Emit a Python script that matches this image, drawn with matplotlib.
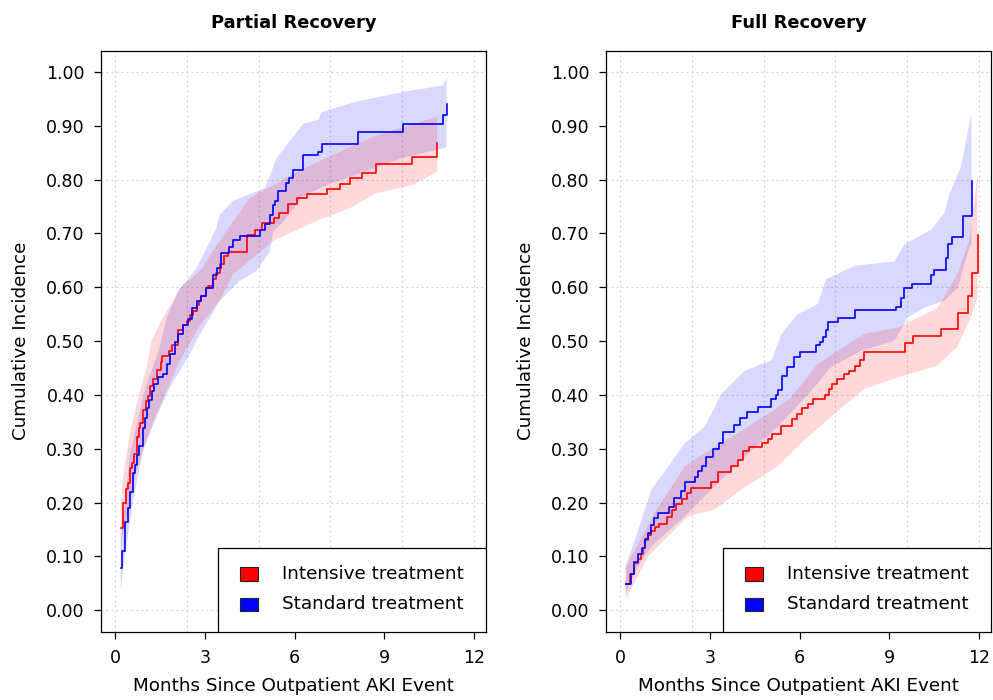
import matplotlib
matplotlib.use("Agg")
import matplotlib.pyplot as plt
from matplotlib.patches import Rectangle

plt.rcParams['font.family'] = ['DejaVu Sans']

groups = ["Intensive treatment", "Standard treatment"]
line_colors = ["red", "blue"]
titles = ["Partial Recovery", "Full Recovery"]
x_ticks = [0, 3, 6, 9, 12]
y_ticks = [0.0, 0.1, 0.2, 0.3, 0.4, 0.5, 0.6, 0.7, 0.8, 0.9, 1.0]

# ---- Partial recovery: cumulative incidence step curves
partial_int_t = [0.19, 0.27, 0.37, 0.43, 0.50, 0.58, 0.65, 0.74, 0.80, 0.85, 0.94, 1.03,
                 1.09, 1.17, 1.26, 1.39, 1.53, 1.58, 1.81, 1.92, 2.09, 2.28, 2.42, 2.52,
                 2.62, 2.73, 2.81, 2.89, 3.04, 3.12, 3.26, 3.36, 3.50, 3.65, 3.79, 4.40,
                 4.68, 4.92, 5.31, 5.47, 5.79, 6.09, 6.43, 7.07, 7.51, 7.85, 8.27, 8.72,
                 9.94, 10.77]
partial_int_y = [0.152, 0.199, 0.225, 0.237, 0.264, 0.273, 0.290, 0.321, 0.338, 0.347, 0.372,
                 0.388, 0.398, 0.416, 0.429, 0.447, 0.461, 0.473, 0.481, 0.493, 0.521, 0.530,
                 0.538, 0.548, 0.556, 0.567, 0.575, 0.584, 0.598, 0.603, 0.615, 0.627, 0.644,
                 0.658, 0.666, 0.698, 0.706, 0.720, 0.729, 0.738, 0.755, 0.765, 0.773, 0.783,
                 0.792, 0.803, 0.813, 0.829, 0.842, 0.868]
partial_std_t = [0.19, 0.25, 0.34, 0.45, 0.50, 0.61, 0.67, 0.74, 0.81, 0.92, 1.01, 1.06,
                 1.15, 1.23, 1.30, 1.44, 1.61, 1.73, 1.84, 2.00, 2.11, 2.28, 2.45, 2.58,
                 2.75, 2.87, 3.04, 3.26, 3.42, 3.53, 3.82, 3.93, 4.17, 4.84, 5.03, 5.18,
                 5.27, 5.36, 5.45, 5.70, 5.81, 5.96, 6.27, 6.79, 6.91, 8.12, 9.62, 10.97,
                 11.11]
partial_std_y = [0.079, 0.110, 0.163, 0.190, 0.219, 0.254, 0.269, 0.288, 0.305, 0.338, 0.358,
                 0.375, 0.390, 0.408, 0.421, 0.434, 0.438, 0.458, 0.476, 0.498, 0.513, 0.529,
                 0.541, 0.561, 0.575, 0.584, 0.598, 0.623, 0.636, 0.663, 0.675, 0.688, 0.696,
                 0.707, 0.718, 0.735, 0.752, 0.760, 0.778, 0.794, 0.804, 0.818, 0.845, 0.852,
                 0.866, 0.888, 0.904, 0.921, 0.941]

# ---- Partial recovery: confidence bands
partial_int_up_t = [0.19, 0.30, 0.50, 0.80, 1.05, 1.22, 1.56, 1.78, 2.20, 2.84, 3.30, 3.95,
                    4.50, 5.29, 6.19, 7.29, 8.63, 10.77]
partial_int_up = [0.20, 0.26, 0.33, 0.40, 0.45, 0.50, 0.54, 0.56, 0.60, 0.63, 0.67, 0.723,
                  0.766, 0.790, 0.818, 0.846, 0.880, 0.917]
partial_int_lo_t = [0.19, 0.22, 0.39, 0.72, 1.06, 1.39, 1.73, 2.17, 2.84, 3.50, 3.95, 5.29,
                    5.74, 6.73, 7.85, 8.74, 9.96, 10.77]
partial_int_lo = [0.12, 0.131, 0.174, 0.26, 0.316, 0.366, 0.408, 0.464, 0.529, 0.575, 0.624,
                  0.686, 0.698, 0.723, 0.747, 0.775, 0.790, 0.815]
partial_std_up_t = [0.19, 0.50, 1.00, 1.50, 1.73, 2.11, 2.73, 3.39, 3.50, 3.95, 5.01, 5.23,
                    5.40, 5.74, 6.29, 6.79, 6.91, 8.07, 9.62, 10.97, 11.08]
partial_std_up = [0.13, 0.29, 0.41, 0.49, 0.544, 0.593, 0.636, 0.710, 0.735, 0.761, 0.784,
                  0.815, 0.840, 0.864, 0.904, 0.911, 0.926, 0.945, 0.963, 0.975, 0.99]
partial_std_lo_t = [0.19, 0.34, 0.61, 0.94, 1.39, 1.84, 2.17, 2.51, 2.84, 3.18, 3.50, 4.17,
                    4.73, 5.18, 5.29, 5.60, 6.30, 7.10, 8.10, 9.60, 11.08]
partial_std_lo = [0.039, 0.107, 0.205, 0.298, 0.359, 0.415, 0.445, 0.477, 0.513, 0.544, 0.575,
                  0.612, 0.630, 0.667, 0.704, 0.720, 0.770, 0.790, 0.810, 0.840, 0.860]

# ---- Full recovery: cumulative incidence step curves
full_int_t = [0.19, 0.33, 0.47, 0.61, 0.69, 0.78, 0.85, 0.94, 1.02, 1.16, 1.31, 1.56, 1.73,
              1.86, 2.08, 2.23, 2.37, 3.04, 3.28, 3.71, 3.95, 4.12, 4.31, 4.74, 4.94, 5.07,
              5.38, 5.76, 5.93, 6.07, 6.29, 6.46, 6.85, 6.98, 7.09, 7.24, 7.49, 7.66, 7.85,
              8.02, 8.16, 9.53, 9.80, 10.73, 11.30, 11.62, 11.78, 11.95]
full_int_y = [0.048, 0.068, 0.088, 0.096, 0.104, 0.116, 0.130, 0.140, 0.148, 0.154, 0.161,
              0.174, 0.187, 0.198, 0.206, 0.218, 0.227, 0.239, 0.256, 0.267, 0.279, 0.296,
              0.303, 0.311, 0.319, 0.327, 0.342, 0.356, 0.365, 0.375, 0.383, 0.392, 0.400,
              0.411, 0.421, 0.430, 0.439, 0.444, 0.454, 0.464, 0.479, 0.496, 0.510, 0.523,
              0.553, 0.584, 0.626, 0.698]
full_std_t = [0.19, 0.36, 0.47, 0.61, 0.74, 0.85, 0.94, 1.02, 1.13, 1.27, 1.63, 1.80, 2.05,
              2.16, 2.51, 2.60, 2.74, 2.87, 3.10, 3.32, 3.45, 3.81, 4.01, 4.23, 4.60, 5.04,
              5.20, 5.29, 5.40, 5.58, 5.81, 6.02, 6.55, 6.68, 6.79, 6.88, 6.96, 7.27, 7.87,
              9.22, 9.39, 9.50, 9.75, 10.39, 10.50, 10.89, 10.97, 11.10, 11.45, 11.75]
full_std_y = [0.048, 0.067, 0.089, 0.104, 0.116, 0.133, 0.144, 0.159, 0.171, 0.181, 0.192,
              0.208, 0.221, 0.239, 0.248, 0.259, 0.268, 0.285, 0.299, 0.311, 0.331, 0.344,
              0.358, 0.368, 0.378, 0.392, 0.399, 0.410, 0.436, 0.452, 0.470, 0.479, 0.492,
              0.498, 0.507, 0.521, 0.535, 0.543, 0.558, 0.564, 0.581, 0.598, 0.606, 0.623,
              0.633, 0.655, 0.681, 0.694, 0.733, 0.797]

# ---- Full recovery: confidence bands
full_int_up_t = [0.19, 1.16, 2.16, 2.83, 4.28, 5.16, 5.73, 6.61, 8.16, 9.28, 10.62, 11.27,
                 11.67, 11.95]
full_int_up = [0.08, 0.181, 0.267, 0.291, 0.341, 0.372, 0.396, 0.458, 0.513, 0.525, 0.562,
               0.624, 0.686, 0.810]
full_int_lo_t = [0.19, 0.94, 2.27, 3.16, 4.05, 5.27, 6.16, 7.05, 8.16, 9.50, 10.62, 11.27,
                 11.72, 11.95]
full_int_lo = [0.02, 0.10, 0.174, 0.187, 0.224, 0.267, 0.316, 0.359, 0.411, 0.436, 0.455,
               0.489, 0.544, 0.580]
full_std_up_t = [0.19, 0.50, 1.05, 1.61, 2.16, 2.83, 3.39, 4.17, 5.06, 5.40, 5.94, 6.05,
                 6.61, 6.89, 7.85, 9.18, 9.50, 10.40, 10.85, 11.00, 11.40, 11.72, 11.75]
full_std_up = [0.082, 0.131, 0.224, 0.267, 0.310, 0.341, 0.402, 0.445, 0.464, 0.513, 0.550,
               0.553, 0.569, 0.615, 0.640, 0.648, 0.680, 0.707, 0.738, 0.772, 0.824, 0.917,
               0.92]
full_std_lo_t = [0.19, 0.61, 1.05, 2.16, 3.16, 4.17, 5.28, 6.40, 7.06, 8.06, 9.18, 9.62,
                 10.17, 10.85, 11.30, 11.67, 11.75]
full_std_lo = [0.033, 0.082, 0.119, 0.174, 0.230, 0.285, 0.341, 0.408, 0.452, 0.482, 0.501,
               0.544, 0.562, 0.575, 0.600, 0.673, 0.680]


def band(ax, up_t, up, lo_t, lo, color):
    xs = list(up_t) + list(lo_t)[::-1]
    ys = list(up) + list(lo)[::-1]
    ax.fill(xs, ys, color=color, alpha=0.15, lw=0)


def draw_panel(ax, title, curves, bands):
    # standard band first, intensive on top
    band(ax, *bands[1], line_colors[1])
    band(ax, *bands[0], line_colors[0])
    for (t, y), col in zip(curves, line_colors):
        ax.plot(t, y, drawstyle="steps-post", color=col, lw=1.2)

    ax.set_xlim(-0.468, 12.4)
    ax.set_ylim(-0.04, 1.04)
    ax.set_xticks(x_ticks)
    ax.set_yticks(y_ticks)
    ax.set_yticklabels([f"{v:.2f}" for v in y_ticks])
    for gx in [0, 2.4, 4.8, 7.2, 9.6, 12]:
        ax.axvline(gx, color="#d0d0d0", lw=0.9, ls=(0, (1.5, 2.5)), zorder=0)
    for gy in [0, 0.2, 0.4, 0.6, 0.8, 1.0]:
        ax.axhline(gy, color="#d0d0d0", lw=0.9, ls=(0, (1.5, 2.5)), zorder=0)
    ax.tick_params(labelsize=12.5, length=5.2, width=0.9)
    ax.tick_params(axis="x", pad=7.5)
    ax.tick_params(axis="y", pad=6.5)
    for s in ax.spines.values():
        s.set_linewidth(0.9)
    ax.set_title(title, fontsize=12.9, fontweight="bold", pad=16.5)
    ax.set_xlabel("Months Since Outpatient AKI Event", fontsize=13.2, labelpad=7)
    ax.set_ylabel("Cumulative Incidence", fontsize=13.2, labelpad=11.5)

    # legend box in the lower right corner
    ax.add_patch(Rectangle((0.304, 0.0), 0.696, 0.1445, transform=ax.transAxes,
                           facecolor="white", edgecolor="black", lw=0.9, zorder=5))
    for yc, col, lab in zip([0.0993, 0.0468], line_colors, groups):
        ax.add_patch(Rectangle((0.362, yc - 0.012), 0.046, 0.024, transform=ax.transAxes,
                               facecolor=col, edgecolor="#222222", lw=0.8, zorder=6))
        ax.text(0.470, yc, lab, transform=ax.transAxes, fontsize=13.2, va="center",
                ha="left", zorder=6)


fig = plt.figure(figsize=(9.93, 7.0), dpi=100)
ax1 = fig.add_axes([101 / 993, 1 - 631.7 / 700, 385 / 993, 581.2 / 700])
ax2 = fig.add_axes([606 / 993, 1 - 631.7 / 700, 385 / 993, 581.2 / 700])

draw_panel(ax1, titles[0],
           [(partial_int_t, partial_int_y), (partial_std_t, partial_std_y)],
           [(partial_int_up_t, partial_int_up, partial_int_lo_t, partial_int_lo),
            (partial_std_up_t, partial_std_up, partial_std_lo_t, partial_std_lo)])
draw_panel(ax2, titles[1],
           [(full_int_t, full_int_y), (full_std_t, full_std_y)],
           [(full_int_up_t, full_int_up, full_int_lo_t, full_int_lo),
            (full_std_up_t, full_std_up, full_std_lo_t, full_std_lo)])

fig.savefig("out.png", dpi=100)
